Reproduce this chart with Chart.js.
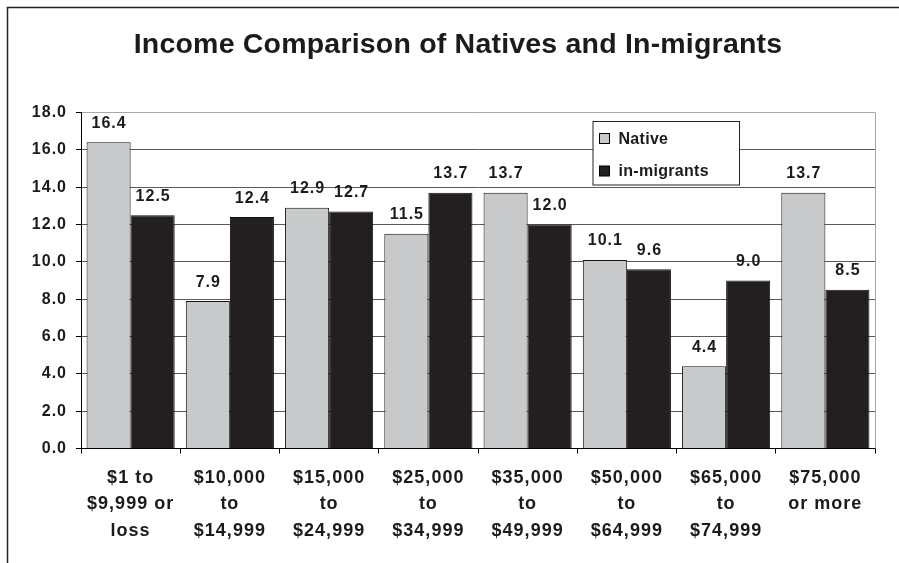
<!DOCTYPE html>
<html>
<head>
<meta charset="utf-8">
<script src="https://cdn.jsdelivr.net/npm/chart.js@4"></script>
<style>
  html, body { margin: 0; padding: 0; background: #fff; }
  canvas { display: block; }
</style>
</head>
<body>
<canvas id="chartCanvas" width="899" height="563"></canvas>
<script>
const chartTitle = 'Income Comparison of Natives and In-migrants';
const incomeBrackets = [
  ['$1 to', '$9,999 or', 'loss'],
  ['$10,000', 'to', '$14,999'],
  ['$15,000', 'to', '$24,999'],
  ['$25,000', 'to', '$34,999'],
  ['$35,000', 'to', '$49,999'],
  ['$50,000', 'to', '$64,999'],
  ['$65,000', 'to', '$74,999'],
  ['$75,000', 'or more']
];
const nativeShare = [16.4, 7.9, 12.9, 11.5, 13.7, 10.1, 4.4, 13.7];
const inMigrantShare = [12.5, 12.4, 12.7, 13.7, 12.0, 9.6, 9.0, 8.5];
const seriesNames = ['Native', 'in-migrants'];
const yMin = 0, yMax = 18, yStep = 2;

const FONT = '"Liberation Sans", Arial, Helvetica, sans-serif';
const INK = '#1c1a1b';

// outer frame, plot border on the right, and the chart title
const framePlugin = {
  id: 'frame',
  beforeDraw(chart) {
    const ctx = chart.ctx;
    // axis text is set slightly loose
    ctx.letterSpacing = '1px';
    ctx.save();
    ctx.fillStyle = '#fff';
    ctx.fillRect(0, 0, chart.width, chart.height);
    ctx.strokeStyle = '#222';
    ctx.lineWidth = 1.5;
    ctx.beginPath();
    ctx.moveTo(7.5, chart.height);
    ctx.lineTo(7.5, 7.5);
    ctx.lineTo(chart.width, 7.5);
    ctx.stroke();
    ctx.restore();
  },
  afterDraw(chart) {
    const ctx = chart.ctx;
    const area = chart.chartArea;
    ctx.save();
    ctx.strokeStyle = '#a8a8a8';
    ctx.lineWidth = 1;
    ctx.beginPath();
    ctx.moveTo(area.right + 0.5, area.top);
    ctx.lineTo(area.right + 0.5, area.bottom);
    ctx.stroke();
    ctx.letterSpacing = '0.2px';
    ctx.fillStyle = INK;
    ctx.font = 'bold 28.5px ' + FONT;
    ctx.textAlign = 'center';
    ctx.textBaseline = 'alphabetic';
    ctx.fillText(chartTitle, 458, 53);
    ctx.restore();
    ctx.letterSpacing = '0px';
  }
};

// value above every bar
const valueLabels = {
  id: 'valueLabels',
  afterDatasetsDraw(chart) {
    const ctx = chart.ctx;
    ctx.save();
    ctx.letterSpacing = '1px';
    ctx.fillStyle = INK;
    ctx.font = 'bold 16px ' + FONT;
    ctx.textAlign = 'center';
    ctx.textBaseline = 'alphabetic';
    chart.data.datasets.forEach((ds, i) => {
      chart.getDatasetMeta(i).data.forEach((bar, j) => {
        ctx.fillText(ds.data[j].toFixed(1), bar.x + 0.5, bar.y - 14.5);
      });
    });
    ctx.restore();
  }
};

// boxed legend inside the plot area
const boxLegend = {
  id: 'boxLegend',
  afterDraw(chart) {
    const ctx = chart.ctx;
    const area = chart.chartArea;
    const x = area.right - 282, y = area.top + 9, w = 146.5, h = 63.5;
    ctx.save();
    ctx.letterSpacing = '0.3px';
    ctx.fillStyle = '#fff';
    ctx.fillRect(x, y, w, h);
    ctx.strokeStyle = '#222';
    ctx.lineWidth = 1;
    ctx.strokeRect(x, y, w, h);
    ctx.font = 'bold 16px ' + FONT;
    ctx.textAlign = 'left';
    ctx.textBaseline = 'alphabetic';
    chart.data.datasets.forEach((ds, i) => {
      const rowY = y + 12 + i * 32.5;
      ctx.fillStyle = ds.backgroundColor;
      ctx.fillRect(x + 6.5, rowY, 10, 10);
      ctx.strokeStyle = '#000';
      ctx.strokeRect(x + 6.5, rowY, 10, 10);
      ctx.fillStyle = INK;
      ctx.fillText(ds.label, x + 25.5, rowY + 10);
    });
    ctx.restore();
  }
};

const ctx = document.getElementById('chartCanvas').getContext('2d');
new Chart(ctx, {
  type: 'bar',
  data: {
    labels: incomeBrackets,
    datasets: [
      {
        label: seriesNames[0],
        data: nativeShare,
        backgroundColor: '#c8c9cb',
        borderColor: '#111',
        borderWidth: 1,
        categoryPercentage: 0.888,
        barPercentage: 1
      },
      {
        label: seriesNames[1],
        data: inMigrantShare,
        backgroundColor: '#231f20',
        borderColor: '#111',
        borderWidth: 1,
        categoryPercentage: 0.888,
        barPercentage: 1
      }
    ]
  },
  options: {
    responsive: false,
    animation: false,
    devicePixelRatio: 1,
    layout: { padding: { top: 112.5, left: 0, right: 24, bottom: 0 } },
    plugins: {
      legend: { display: false },
      title: { display: false },
      tooltip: { enabled: false }
    },
    scales: {
      x: {
        afterFit: (scale) => { scale.height = 114.5; },
        grid: {
          offset: true,
          drawOnChartArea: false,
          tickLength: 5,
          tickColor: '#000'
        },
        border: { color: '#000', width: 1 },
        ticks: {
          color: INK,
          padding: 11,
          maxRotation: 0,
          autoSkip: false,
          font: { family: FONT, size: 18, weight: 'bold', lineHeight: 1.47 }
        }
      },
      y: {
        min: yMin,
        max: yMax,
        afterFit: (scale) => { scale.width = 81; },
        grid: {
          color: (c) => c.tick && c.tick.value === yMax ? '#a8a8a8' : '#5a5a5a',
          tickLength: 5,
          tickColor: '#000'
        },
        border: { color: '#000', width: 1 },
        ticks: {
          stepSize: yStep,
          color: INK,
          padding: 9,
          callback: (v) => v.toFixed(1),
          font: { family: FONT, size: 16, weight: 'bold' }
        }
      }
    }
  },
  plugins: [framePlugin, valueLabels, boxLegend]
});
</script>
</body>
</html>
